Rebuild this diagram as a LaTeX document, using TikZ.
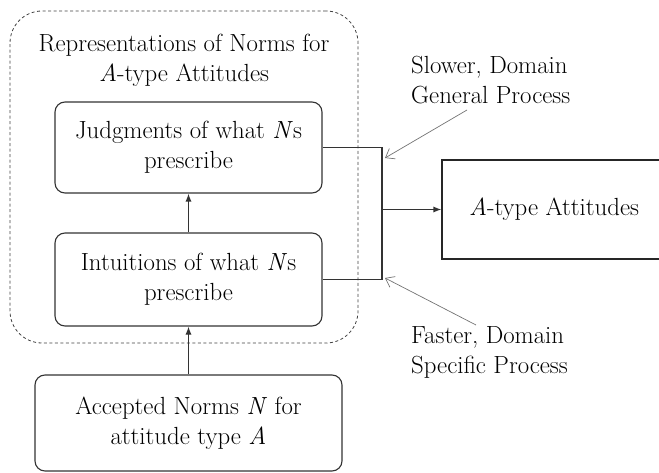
\documentclass[tikz,border=0pt]{standalone}
\usetikzlibrary{arrows.meta}
\begin{document}
\begin{tikzpicture}[x=1pt,y=-1pt,
  txt/.style={font=\fontsize{24.8}{30}\selectfont, align=center, inner sep=0pt},
  roundbox/.style={txt, draw=black!80, line width=1.1pt, rounded corners=10pt},
  plainbox/.style={txt, draw=black!85, line width=1.1pt},
  group/.style={draw=black!75, line width=0.8pt, dash pattern=on 3pt off 2.5pt, rounded corners=32pt},
  link/.style={draw=black!80, line width=1.1pt},
  flow/.style={link, -{Latex[length=8pt,width=6pt]}},
  hint/.style={draw=black!55, line width=0.7pt, -{Straight Barb[length=8pt,width=12pt]}},
  note/.style={font=\fontsize{24.8}{30}\selectfont, align=left, inner sep=0pt, anchor=west}
]
\useasboundingbox (0,0) rectangle (659,473);

% dashed group of norm representations
\node[group, minimum width=348pt, minimum height=332pt] (grp) at (184,177) {};
\node[txt] (grptitle) at (184,60) {Representations of Norms for\\\textit{A}-type Attitudes};

% boxes
\node[roundbox, minimum width=267pt, minimum height=91pt] (judg) at (188.5,147.5) {Judgments of what \textit{N}s\\prescribe};
\node[roundbox, minimum width=267pt, minimum height=93pt] (intu) at (188.5,279.5) {Intuitions of what \textit{N}s\\prescribe};
\node[roundbox, minimum width=307pt, minimum height=96pt] (acc) at (188.5,423) {Accepted Norms \textit{N} for\\attitude type \textit{A}};
\node[plainbox, minimum width=224pt, minimum height=99pt] (att) at (554,209.5) {\textit{A}-type Attitudes};

% vertical flow
\draw[flow] (acc.north) -- (intu.south);
\draw[flow] (intu.north) -- (judg.south);

% merge into attitudes
\coordinate (J) at (382,209.5);
\draw[link] (judg.east) -| (J);
\draw[link] (intu.east) -| (J);
\draw[flow] (J) -- (att.west);

% process labels
\node[note] (slow) at (411,80) {Slower, Domain\\General Process};
\node[note] (fast) at (411,352) {Faster, Domain\\Specific Process};
\coordinate (s1) at (467,110);
\coordinate (s2) at (385,158);
\coordinate (f1) at (476,325);
\coordinate (f2) at (385,278);
\draw[hint] (s1) -- (s2);
\draw[hint] (f1) -- (f2);
\end{tikzpicture}
\end{document}
